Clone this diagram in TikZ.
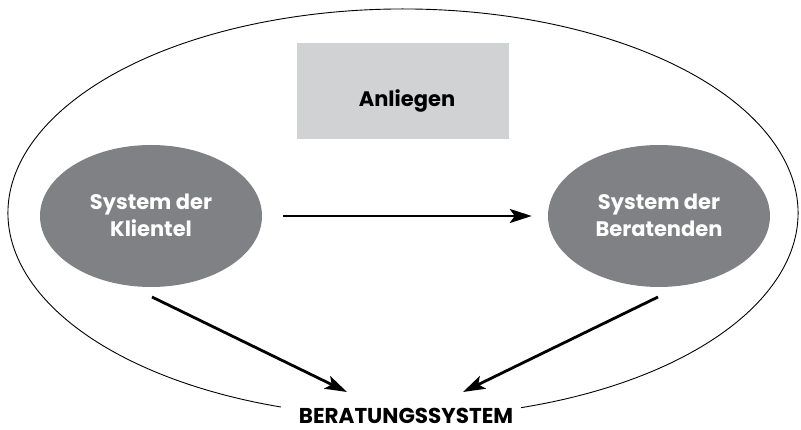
\documentclass[tikz,border=0pt]{standalone}
\usepackage{fontspec}
\setmainfont{Poppins}[BoldFont={* Bold}]
\usetikzlibrary{arrows.meta,shapes.geometric}
\definecolor{boxgray}{HTML}{D1D2D4}
\definecolor{sysgray}{HTML}{808184}
\begin{document}
\begin{tikzpicture}[x=1pt,y=1pt,
  sysnode/.style={ellipse, fill=sysgray, minimum width=222pt, minimum height=142pt,
    inner sep=0pt},
  systext/.style={text=white, font=\fontsize{21}{27}\selectfont\bfseries, align=center},
  topicbox/.style={rectangle, fill=boxgray, minimum width=212pt, minimum height=96pt},
  label text/.style={font=\fontsize{21}{25}\selectfont\bfseries, inner sep=0pt},
  flow/.style={line width=2.8pt, -{Stealth[length=22pt,width=14pt,inset=5pt]}},
  frame/.style={line width=0.9pt}]
\useasboundingbox (0,0) rectangle (801,430);
% outer boundary of the counselling system, open at the label
\draw[frame] (403,217) ++(-72.6:395 and 204)
  arc[start angle=-72.6, end angle=252.0, x radius=395, y radius=204];
\node[topicbox] (anlbox) at (403,339) {};
\node[label text] (anl) at (407,329.5) {Anliegen};
\node[sysnode] (kl) at (151,214) {};
\node[systext] (kltext) at (151,215) {System der\\Klientel};
\node[sysnode] (br) at (659,214) {};
\node[systext] (brtext) at (659,215) {System der\\Beratenden};
\node[label text, font=\fontsize{21.5}{25}\selectfont\bfseries] (ber) at (406,14.5) {BERATUNGSSYSTEM};
\coordinate (kl-out) at (152,133);
\coordinate (br-out) at (658,133);
\coordinate (ber-l) at (347,38);
\coordinate (ber-r) at (463,38);
\draw[flow, shorten <=21pt, shorten >=16pt] (kl.east) -- (br.west);
\draw[flow] (kl-out) -- (ber-l);
\draw[flow] (br-out) -- (ber-r);
\end{tikzpicture}
\end{document}
